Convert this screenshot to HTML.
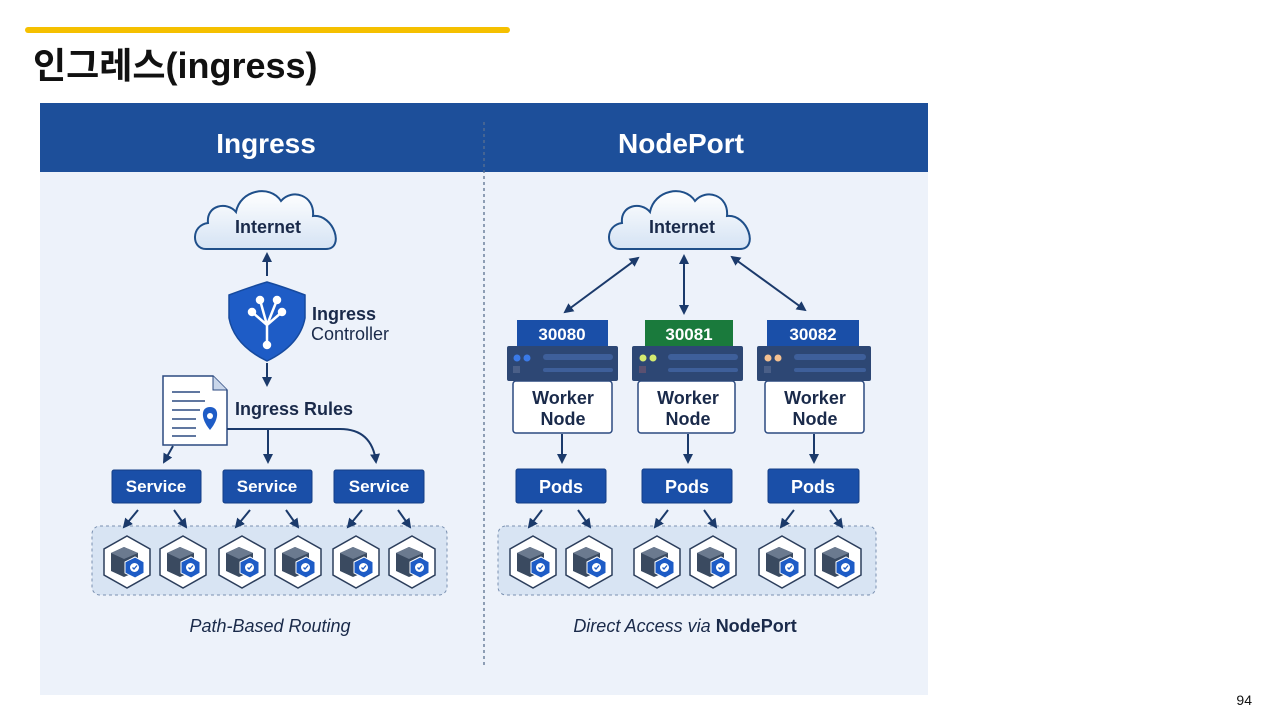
<!DOCTYPE html>
<html><head><meta charset="utf-8"><style>
html,body{margin:0;padding:0;background:#fff;width:1280px;height:720px;overflow:hidden}
svg{display:block}
text{font-family:"Liberation Sans","Noto Sans CJK KR",sans-serif}
</style></head><body>
<svg width="1280" height="720" viewBox="0 0 1280 720" xmlns="http://www.w3.org/2000/svg">
<defs>
<marker id="ah" viewBox="0 0 10 10" refX="8" refY="5" markerWidth="5" markerHeight="5" orient="auto-start-reverse"><path d="M0,0 L10,5 L0,10 z" fill="#1b3a6b"/></marker>
<linearGradient id="cl" x1="0" y1="0" x2="0" y2="1"><stop offset="0" stop-color="#ffffff"/><stop offset="1" stop-color="#d5e3f4"/></linearGradient>
<g id="pod">
<polygon points="0,-26 23,-13 23,13 0,26 -23,13 -23,-13" fill="#fff" stroke="#2c3e5c" stroke-width="1.5"/>
<path d="M-16,-9 L-3,-15 L11,-9 L11,9 L-3,15 L-16,9 z" fill="#3a4a60"/>
<path d="M-16,-9 L-3,-15 L11,-9 L-3,-3 z" fill="#6b7a8f"/>
<path d="M-2,0 L8,-5 L17,0 L17,11 L8,16 L-2,11 z" fill="#1e5cc6" stroke="#fff" stroke-width="1"/>
<circle cx="7.5" cy="5.5" r="4.5" fill="#fff"/>
<path d="M5.5,5.5 L7,7 L10,3.5" stroke="#1e5cc6" stroke-width="1.3" fill="none"/>
</g>
<g id="cloud">
<path d="M-62,24 C-77,24 -77,0 -60,-2 C-62,-20 -41,-24 -32,-13 C-28,-35 2,-41 13,-24 C24,-37 47,-30 45,-9 C66,-11 77,24 58,24 z" fill="url(#cl)" stroke="#1f4f8a" stroke-width="2"/>
</g>
</defs>

<rect x="25" y="27" width="485" height="6" rx="3" fill="#f5c000"/>
<text x="33" y="78" font-size="36" font-weight="bold" fill="#111">인그레스(ingress)</text>

<rect x="40" y="103" width="888" height="592" fill="#edf2fa"/>
<rect x="40" y="103" width="888" height="69" fill="#1d4f9a"/>
<line x1="484" y1="122" x2="484" y2="668" stroke="#5a7090" stroke-width="1.3" stroke-dasharray="3,3"/>
<text x="266" y="153" font-size="28" font-weight="bold" fill="#fff" text-anchor="middle">Ingress</text>
<text x="681" y="153" font-size="28" font-weight="bold" fill="#fff" text-anchor="middle">NodePort</text>

<!-- Left -->
<use href="#cloud" x="268" y="225"/>
<text x="268" y="233" font-size="18" font-weight="bold" fill="#1a2a4a" text-anchor="middle">Internet</text>
<line x1="267" y1="276" x2="267" y2="254" stroke="#1b3a6b" stroke-width="2" marker-end="url(#ah)"/>
<path d="M229,295 Q250,287 267,282 Q284,287 305,295 L305,318 Q300,345 267,361 Q234,345 229,318 z" fill="#1e5cc6" stroke="#164a9e" stroke-width="1.5"/>
<g stroke="#fff" stroke-width="2.5" fill="#fff">
<path d="M267,345 L267,325 M267,325 L252,312 M267,325 L282,312 M267,325 L260,300 M267,325 L277,300" fill="none"/>
<circle cx="267" cy="345" r="3"/><circle cx="252" cy="312" r="3"/><circle cx="282" cy="312" r="3"/><circle cx="260" cy="300" r="3"/><circle cx="277" cy="300" r="3"/>
</g>
<text x="312" y="320" font-size="18" font-weight="bold" fill="#1a2a4a">Ingress</text>
<text x="311" y="340" font-size="18" fill="#1a2a4a">Controller</text>
<line x1="267" y1="363" x2="267" y2="385" stroke="#1b3a6b" stroke-width="2" marker-end="url(#ah)"/>
<path d="M163,376 L213,376 L227,390 L227,445 L163,445 z" fill="#fff" stroke="#2c4a80" stroke-width="1.5"/>
<path d="M213,376 L213,390 L227,390" fill="#c9d6ea" stroke="#2c4a80" stroke-width="1"/>
<g stroke="#2c4a80" stroke-width="1.5"><line x1="172" y1="392" x2="200" y2="392"/><line x1="172" y1="401" x2="205" y2="401"/><line x1="172" y1="410" x2="200" y2="410"/><line x1="172" y1="419" x2="196" y2="419"/><line x1="172" y1="428" x2="196" y2="428"/><line x1="172" y1="436" x2="196" y2="436"/></g>
<path d="M210,430 C200,418 201,407 210,407 C219,407 220,418 210,430 z" fill="#1e5cc6"/>
<circle cx="210" cy="416" r="3" fill="#fff"/>
<text x="235" y="415" font-size="18" font-weight="bold" fill="#1a2a4a">Ingress Rules</text>
<path d="M227,429 L340,429 Q372,429 376,462" fill="none" stroke="#1b3a6b" stroke-width="2" marker-end="url(#ah)"/>
<line x1="268" y1="429" x2="268" y2="462" stroke="#1b3a6b" stroke-width="2" marker-end="url(#ah)"/>
<line x1="173" y1="446" x2="164" y2="462" stroke="#1b3a6b" stroke-width="2" marker-end="url(#ah)"/>
<g fill="#1a4fa8" stroke="#143e86" stroke-width="1">
<rect x="112" y="470" width="89" height="33" rx="2"/><rect x="223" y="470" width="89" height="33" rx="2"/><rect x="334" y="470" width="90" height="33" rx="2"/>
</g>
<g font-size="17" font-weight="bold" fill="#fff" text-anchor="middle">
<text x="156" y="492">Service</text><text x="267" y="492">Service</text><text x="379" y="492">Service</text>
</g>
<rect x="92" y="526" width="355" height="69" rx="8" fill="#d8e4f3" stroke="#7a90b0" stroke-width="1" stroke-dasharray="3,3"/>
<g stroke="#1b3a6b" stroke-width="2" marker-end="url(#ah)">
<line x1="138" y1="510" x2="124" y2="527"/><line x1="174" y1="510" x2="186" y2="527"/>
<line x1="250" y1="510" x2="236" y2="527"/><line x1="286" y1="510" x2="298" y2="527"/>
<line x1="362" y1="510" x2="348" y2="527"/><line x1="398" y1="510" x2="410" y2="527"/>
</g>
<use href="#pod" x="127" y="562"/><use href="#pod" x="183" y="562"/><use href="#pod" x="242" y="562"/><use href="#pod" x="298" y="562"/><use href="#pod" x="356" y="562"/><use href="#pod" x="412" y="562"/>
<text x="270" y="632" font-size="18" font-style="italic" fill="#1a2a4a" text-anchor="middle">Path-Based Routing</text>

<!-- Right -->
<use href="#cloud" x="682" y="225"/>
<text x="682" y="233" font-size="18" font-weight="bold" fill="#1a2a4a" text-anchor="middle">Internet</text>
<g stroke="#1b3a6b" stroke-width="2" marker-start="url(#ah)" marker-end="url(#ah)">
<line x1="638" y1="258" x2="565" y2="312"/><line x1="684" y1="256" x2="684" y2="313"/><line x1="732" y1="257" x2="805" y2="310"/>
</g>
<rect x="517" y="320" width="91" height="27" fill="#1a4fa8"/>
<rect x="645" y="320" width="88" height="27" fill="#1a7a3c"/>
<rect x="767" y="320" width="92" height="27" fill="#1a4fa8"/>
<g font-size="17" font-weight="bold" fill="#fff" text-anchor="middle">
<text x="562" y="340">30080</text><text x="689" y="340">30081</text><text x="813" y="340">30082</text>
</g>
<g>
<rect x="513" y="381" width="99" height="52" rx="3" fill="#fff" stroke="#2c4a80" stroke-width="1.5"/>
<rect x="638" y="381" width="97" height="52" rx="3" fill="#fff" stroke="#2c4a80" stroke-width="1.5"/>
<rect x="765" y="381" width="99" height="52" rx="3" fill="#fff" stroke="#2c4a80" stroke-width="1.5"/>
<rect x="507" y="346" width="111" height="35" rx="2" fill="#2d4774"/>
<rect x="632" y="346" width="111" height="35" rx="2" fill="#2d4774"/>
<rect x="757" y="346" width="114" height="35" rx="2" fill="#2d4774"/>
<circle cx="517" cy="358" r="3.5" fill="#3a7ae8"/><circle cx="527" cy="358" r="3.5" fill="#3a7ae8"/><rect x="513" y="366" width="7" height="7" fill="#4a5f88"/>
<circle cx="643" cy="358" r="3.5" fill="#d4ea70"/><circle cx="653" cy="358" r="3.5" fill="#d4ea70"/><rect x="639" y="366" width="7" height="7" fill="#5a5070"/>
<circle cx="768" cy="358" r="3.5" fill="#f4c090"/><circle cx="778" cy="358" r="3.5" fill="#f4c090"/><rect x="764" y="366" width="7" height="7" fill="#4a5f88"/>
<g fill="#3e5f9a"><rect x="543" y="354" width="70" height="6" rx="3"/><rect x="543" y="368" width="70" height="4" rx="2"/>
<rect x="668" y="354" width="70" height="6" rx="3"/><rect x="668" y="368" width="70" height="4" rx="2"/>
<rect x="794" y="354" width="72" height="6" rx="3"/><rect x="794" y="368" width="72" height="4" rx="2"/></g>
</g>
<g font-size="18" font-weight="bold" fill="#1a2a4a" text-anchor="middle">
<text x="563" y="404">Worker</text><text x="563" y="425">Node</text>
<text x="688" y="404">Worker</text><text x="688" y="425">Node</text>
<text x="815" y="404">Worker</text><text x="815" y="425">Node</text>
</g>
<g stroke="#1b3a6b" stroke-width="2" marker-end="url(#ah)">
<line x1="562" y1="434" x2="562" y2="462"/><line x1="688" y1="434" x2="688" y2="462"/><line x1="814" y1="434" x2="814" y2="462"/>
</g>
<g fill="#1a4fa8" stroke="#143e86" stroke-width="1">
<rect x="516" y="469" width="90" height="34" rx="2"/><rect x="642" y="469" width="90" height="34" rx="2"/><rect x="768" y="469" width="91" height="34" rx="2"/>
</g>
<g font-size="18" font-weight="bold" fill="#fff" text-anchor="middle">
<text x="561" y="493">Pods</text><text x="687" y="493">Pods</text><text x="813" y="493">Pods</text>
</g>
<rect x="498" y="526" width="378" height="69" rx="8" fill="#d8e4f3" stroke="#7a90b0" stroke-width="1" stroke-dasharray="3,3"/>
<g stroke="#1b3a6b" stroke-width="2" marker-end="url(#ah)">
<line x1="542" y1="510" x2="529" y2="527"/><line x1="578" y1="510" x2="590" y2="527"/>
<line x1="668" y1="510" x2="655" y2="527"/><line x1="704" y1="510" x2="716" y2="527"/>
<line x1="794" y1="510" x2="781" y2="527"/><line x1="830" y1="510" x2="842" y2="527"/>
</g>
<use href="#pod" x="533" y="562"/><use href="#pod" x="589" y="562"/><use href="#pod" x="657" y="562"/><use href="#pod" x="713" y="562"/><use href="#pod" x="782" y="562"/><use href="#pod" x="838" y="562"/>
<text x="685" y="632" font-size="18" fill="#1a2a4a" text-anchor="middle"><tspan font-style="italic">Direct Access via </tspan><tspan font-weight="bold">NodePort</tspan></text>

<text x="1252" y="705" font-size="14" fill="#111" text-anchor="end">94</text>
</svg>
</body></html>
